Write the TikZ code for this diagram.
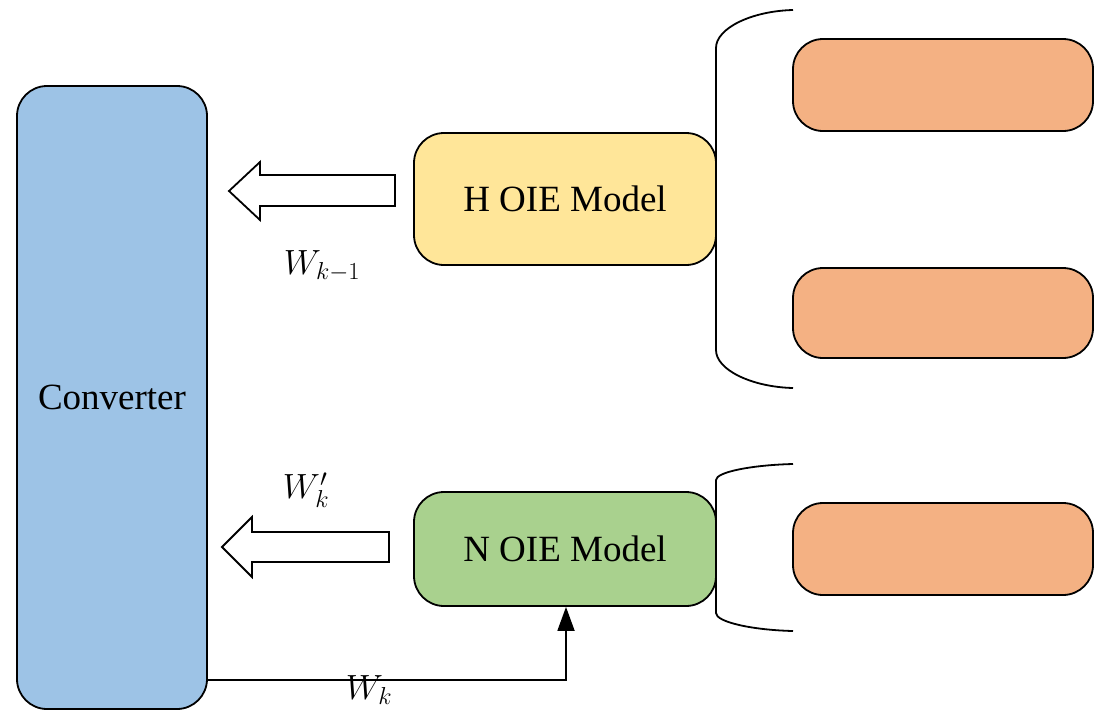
\RequirePackage{fix-cm}
\documentclass[tikz,border=0pt]{standalone}
\usepackage{fontspec}
\setmainfont{Liberation Serif}
\usetikzlibrary{arrows.meta}
\definecolor{convblue}{HTML}{9DC3E6}
\definecolor{hyellow}{HTML}{FFE699}
\definecolor{ngreen}{HTML}{A9D18E}
\definecolor{subor}{HTML}{F4B183}
\begin{document}
\begin{tikzpicture}[x=1pt,y=-1pt,
  box/.style={draw=black,line width=1.8pt,rounded corners=30pt,inner sep=0pt,
    font=\fontsize{37}{44}\selectfont},
  hollow/.style={draw=black,fill=white,line width=1.8pt,line join=miter},
  bracket/.style={draw=black,line width=1.8pt},
  wlabel/.style={font=\fontsize{35}{42}\selectfont,inner sep=0pt}]
\useasboundingbox (0,0) rectangle (1094,710);

% main blocks
\node[box,fill=convblue,minimum width=190pt,minimum height=623pt] (conv) at (112,397.5) {Converter};
\node[box,fill=hyellow,minimum width=302pt,minimum height=132pt] (hoie) at (565,199) {H OIE Model};
\node[box,fill=ngreen,minimum width=302pt,minimum height=114pt] (noie) at (565,549) {N OIE Model};

% sub-model blocks
\node[box,fill=subor,minimum width=300pt,minimum height=92pt] (o1) at (943,85) {};
\node[box,fill=subor,minimum width=300pt,minimum height=90pt] (o2) at (943,313) {};
\node[box,fill=subor,minimum width=300pt,minimum height=92pt] (o3) at (943,549) {};

% brackets grouping the sub-models
\coordinate (bu1) at (793,10);
\coordinate (bu2) at (716,48);
\coordinate (bu3) at (716,350);
\coordinate (bu4) at (793,388);
\draw[bracket] (bu1) .. controls (752,11) and (716,28) .. (bu2) -- (bu3)
  .. controls (716,370) and (752,387) .. (bu4);
\coordinate (bl1) at (793,464);
\coordinate (bl2) at (716,480);
\coordinate (bl3) at (716,613);
\coordinate (bl4) at (793,631);
\draw[bracket] (bl1) .. controls (752,465) and (716,472) .. (bl2) -- (bl3)
  .. controls (716,622) and (752,630) .. (bl4);

% hollow block arrows towards the converter
\draw[hollow] (395,175) -- (260,175) -- (260,162) -- (229,191) -- (260,220)
  -- (260,206) -- (395,206) -- cycle;
\draw[hollow] (389,532) -- (252,532) -- (252,517) -- (222,547) -- (252,577)
  -- (252,562) -- (389,562) -- cycle;

% feedback line from the converter to the N OIE model
\coordinate (turn) at (566,680);
\draw[line width=1.8pt,-{Triangle[length=24pt,width=17pt]}]
  (conv.east |- turn) -- (turn) -- (turn |- noie.south);

% labels
\node[wlabel] (lbl1) at (322,266) {$W_{k-1}$};
\node[wlabel] (lbl2) at (306,490) {$W_k^{\prime}$};
\node[wlabel] (lbl3) at (369,690) {$W_k$};
\end{tikzpicture}
\end{document}
